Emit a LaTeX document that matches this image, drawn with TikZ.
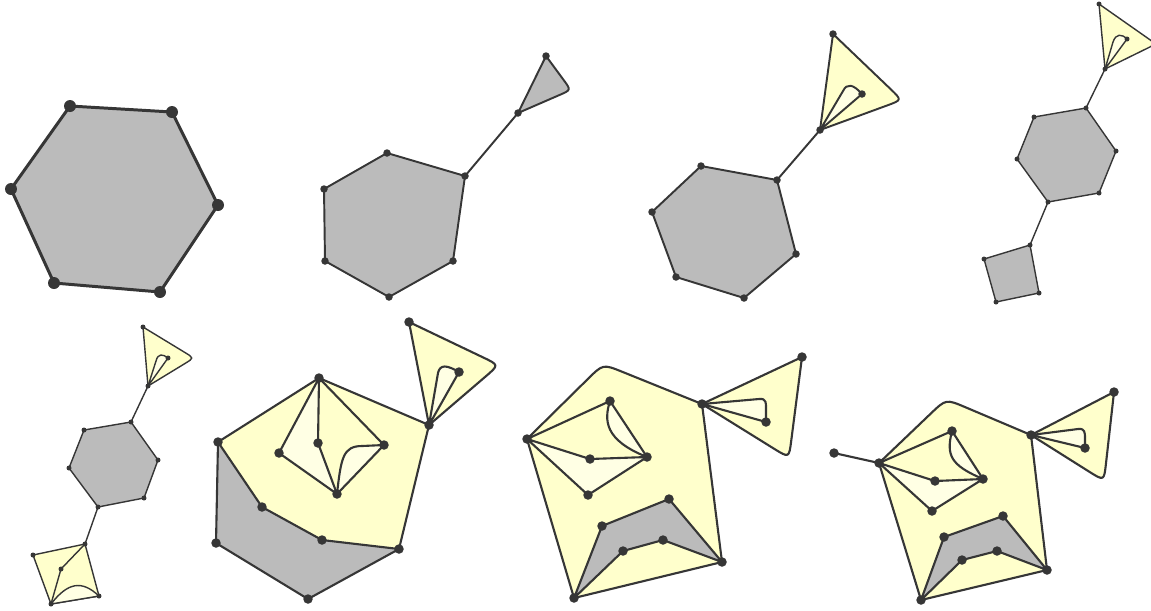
\documentclass[tikz,border=0pt]{standalone}
\usetikzlibrary{calc}
\definecolor{ink}{HTML}{363636}
\definecolor{yel}{HTML}{FFFFCC}
\definecolor{pale}{HTML}{FFFFE4}
\definecolor{gry}{HTML}{BBBBBB}

\begin{document}
\begin{tikzpicture}[x=0.02cm,y=-0.02cm,line join=round,draw=ink,
  vtx/.style={circle,fill=ink,inner sep=0pt,minimum size=#1},
  vtx/.default=0.19cm]
\useasboundingbox (0,0) rectangle (1151,610);

% big hexagon
\begin{scope}[line width=1.7pt]
\coordinate (a1) at (70,106);
\coordinate (a2) at (172,112);
\coordinate (a3) at (218,205);
\coordinate (a4) at (160,292);
\coordinate (a5) at (54,283);
\coordinate (a6) at (11,189);
\filldraw[fill=gry] (a1) -- (a2) -- (a3) -- (a4) -- (a5) -- (a6) -- cycle;
\foreach \i in {1,...,6} \node[vtx=0.24cm] (pa\i) at (a\i) {};
\end{scope}

% hexagon with grey loop
\begin{scope}[line width=1.1pt]
\coordinate (b1) at (387,153);
\coordinate (b2) at (465,176);
\coordinate (b3) at (453,261);
\coordinate (b4) at (389,297);
\coordinate (b5) at (325,261);
\coordinate (b6) at (324,189);
\coordinate (b7) at (518,113);
\coordinate (b8) at (546,56);
\coordinate (bt) at (571,90);
\filldraw[fill=gry] (b1) -- (b2) -- (b3) -- (b4) -- (b5) -- (b6) -- cycle;
\draw (b2) -- (b7);
\filldraw[fill=gry] (b7) -- (b8) -- ($(bt)!7pt!(b8)$) .. controls (bt) .. ($(bt)!7pt!(b7)$) -- cycle;
\foreach \i in {1,...,8} \node[vtx=0.15cm] (pb\i) at (b\i) {};
\end{scope}

% hexagon with yellow loop
\begin{scope}[line width=1.1pt]
\coordinate (c1) at (701,166);
\coordinate (c2) at (777,180);
\coordinate (c3) at (796,254);
\coordinate (c4) at (744,298);
\coordinate (c5) at (676,277);
\coordinate (c6) at (652,212);
\coordinate (c7) at (820,130);
\coordinate (c8) at (833,34);
\coordinate (c9) at (862,94);
\coordinate (ct) at (902,100);
\filldraw[fill=gry] (c1) -- (c2) -- (c3) -- (c4) -- (c5) -- (c6) -- cycle;
\draw (c2) -- (c7);
\filldraw[fill=yel] (c7) -- (c8) -- ($(ct)!9pt!(c8)$) .. controls (ct) .. ($(ct)!9pt!(c7)$) -- cycle;
\filldraw[fill=pale] (c7) -- (843,91) .. controls (847,83) and (853,84) .. (c9) -- cycle;
\foreach \i in {1,...,9} \node[vtx=0.15cm] (pc\i) at (c\i) {};
\end{scope}

% loop, hexagon, square
\begin{scope}[line width=0.8pt]
\coordinate (d1) at (1086,108);
\coordinate (d2) at (1116,151);
\coordinate (d3) at (1099,193);
\coordinate (d4) at (1048,202);
\coordinate (d5) at (1017,159);
\coordinate (d6) at (1034,117);
\coordinate (d7) at (1105,69);
\coordinate (d8) at (1099,4);
\coordinate (d9) at (1127,39);
\coordinate (dt) at (1156,44);
\coordinate (s1) at (1030,245);
\coordinate (s2) at (1039,293);
\coordinate (s3) at (996,302);
\coordinate (s4) at (984,259);
\filldraw[fill=gry] (d1) -- (d2) -- (d3) -- (d4) -- (d5) -- (d6) -- cycle;
\filldraw[fill=gry] (s1) -- (s2) -- (s3) -- (s4) -- cycle;
\draw (d7) -- (d1);
\draw (d4) -- (s1);
\filldraw[fill=yel] (d7) -- (d8) -- ($(dt)!6pt!(d8)$) .. controls (dt) .. ($(dt)!6pt!(d7)$) -- cycle;
\filldraw[fill=pale] (d7) -- (1113,42) .. controls (1116,33) and (1122,34) .. (d9) -- cycle;
\foreach \i in {1,...,9} \node[vtx=0.1cm] (pd\i) at (d\i) {};
\foreach \i in {1,...,4} \node[vtx=0.1cm] (ps\i) at (s\i) {};
\end{scope}

% loop, hexagon, yellow square
\begin{scope}[line width=0.8pt]
\coordinate (f1) at (131,422);
\coordinate (f2) at (158,460);
\coordinate (f3) at (144,498);
\coordinate (f4) at (98,507);
\coordinate (f5) at (69,468);
\coordinate (f6) at (84,430);
\coordinate (f7) at (148,386);
\coordinate (f8) at (143,327);
\coordinate (f9) at (168,358);
\coordinate (ft) at (194,358);
\coordinate (g1) at (85,544);
\coordinate (g2) at (99,596);
\coordinate (g3) at (51,604);
\coordinate (g4) at (33,555);
\coordinate (g5) at (61,569);
\filldraw[fill=gry] (f1) -- (f2) -- (f3) -- (f4) -- (f5) -- (f6) -- cycle;
\draw (f7) -- (f1);
\draw (f4) -- (g1);
\filldraw[fill=yel] (f7) -- (f8) -- ($(ft)!6pt!(f8)$) .. controls (ft) .. ($(ft)!6pt!(f7)$) -- cycle;
\filldraw[fill=pale] (f7) -- (156,361) .. controls (158,353) and (163,354) .. (f9) -- cycle;
\filldraw[fill=yel] (g1) -- (g2) -- (g3) -- (g4) -- cycle;
\filldraw[fill=pale] (g3) .. controls (68,582) and (82,580) .. (g2) -- cycle;
\draw (g1) -- (g5) -- (g3);
\foreach \i in {1,...,9} \node[vtx=0.1cm] (pf\i) at (f\i) {};
\foreach \i in {1,...,5} \node[vtx=0.1cm] (pg\i) at (g\i) {};
\end{scope}

% hexagon, half yellow
\begin{scope}[line width=1.2pt]
\coordinate (h1) at (319,378);
\coordinate (h2) at (429,425);
\coordinate (h3) at (399,549);
\coordinate (h4) at (322,540);
\coordinate (h5) at (262,507);
\coordinate (h6) at (218,442);
\coordinate (h7) at (216,543);
\coordinate (h8) at (308,599);
\coordinate (h9) at (279,453);
\coordinate (h10) at (318,443);
\coordinate (h11) at (384,445);
\coordinate (h12) at (337,494);
\coordinate (h13) at (409,322);
\coordinate (h14) at (459,372);
\coordinate (ht) at (499,365);
\fill[yel] (h6) -- (h1) -- (h2) -- (h3) -- (h4) -- (h5) -- cycle;
\fill[gry] (h6) -- (h5) -- (h4) -- (h3) -- (h8) -- (h7) -- cycle;
\fill[pale] (h1) -- (h9) -- (h12) -- (h10) -- cycle;
\fill[pale] (h12) .. controls (341,458) and (343,446) .. (362,446) -- (h11) -- cycle;
\draw (h6) -- (h1) -- (h2) -- (h3) -- (h8) -- (h7) -- cycle;
\draw (h6) -- (h5) -- (h4) -- (h3);
\draw (h1) -- (h9) -- (h12) -- (h10) -- (h1) -- (h11) -- (h12);
\draw (h12) .. controls (341,458) and (343,446) .. (362,446) -- (h11);
\filldraw[fill=yel] (h2) -- (h13) -- ($(ht)!10pt!(h13)$) .. controls (ht) .. ($(ht)!10pt!(h2)$) -- cycle;
\filldraw[fill=pale] (h2) -- (438,373) .. controls (440,364) and (447,365) .. (h14) -- cycle;
\foreach \i in {1,...,14} \node[vtx] (ph\i) at (h\i) {};
\end{scope}

% yellow face with grey strip
\begin{scope}[line width=1.2pt]
\coordinate (k1) at (527,439);
\coordinate (kc) at (603,364);
\coordinate (k2) at (702,404);
\coordinate (k3) at (722,562);
\coordinate (k4) at (574,598);
\coordinate (k5) at (610,401);
\coordinate (k6) at (590,459);
\coordinate (k7) at (647,457);
\coordinate (k8) at (588,495);
\coordinate (k9) at (802,357);
\coordinate (k10) at (766,422);
\coordinate (kt) at (789,458);
\coordinate (m1) at (602,526);
\coordinate (m2) at (669,499);
\coordinate (m3) at (663,540);
\coordinate (m4) at (623,551);
\filldraw[fill=yel] (k1) -- ($(kc)!12pt!(k1)$) .. controls (kc) .. ($(kc)!12pt!(k2)$) -- (k2) -- (k3) -- (k4) -- cycle;
\filldraw[fill=gry] (k4) -- (m1) -- (m2) -- (k3) -- (m3) -- (m4) -- cycle;
\filldraw[fill=pale] (k1) -- (k6) -- (k7) -- (k8) -- cycle;
\filldraw[fill=pale] (k5) .. controls (604,420) and (604,440) .. (k7) -- cycle;
\draw (k1) -- (k5);
\filldraw[fill=yel] (k2) -- (k9) -- ($(kt)!10pt!(k9)$) .. controls (kt) .. ($(kt)!10pt!(k2)$) -- cycle;
\filldraw[fill=pale] (k2) -- (759,399) .. controls (767,398) and (766,404) .. (766,410) -- (k10) -- cycle;
\foreach \i in {1,...,10} \node[vtx] (pk\i) at (k\i) {};
\foreach \i in {1,...,4} \node[vtx] (pm\i) at (m\i) {};
\end{scope}

% same, with pendant edge
\begin{scope}[line width=1.2pt]
\coordinate (n0) at (834,453);
\coordinate (n1) at (879,463);
\coordinate (nc) at (946,399);
\coordinate (n2) at (1031,435);
\coordinate (n3) at (1047,570);
\coordinate (n4) at (921,600);
\coordinate (n5) at (952,431);
\coordinate (n6) at (935,481);
\coordinate (n7) at (983,479);
\coordinate (n8) at (932,511);
\coordinate (n9) at (1114,392);
\coordinate (n10) at (1085,448);
\coordinate (nt) at (1104,481);
\coordinate (q1) at (944,537);
\coordinate (q2) at (1003,516);
\coordinate (q3) at (997,551);
\coordinate (q4) at (962,560);
\draw (n0) -- (n1);
\filldraw[fill=yel] (n1) -- ($(nc)!12pt!(n1)$) .. controls (nc) .. ($(nc)!12pt!(n2)$) -- (n2) -- (n3) -- (n4) -- cycle;
\filldraw[fill=gry] (n4) -- (q1) -- (q2) -- (n3) -- (q3) -- (q4) -- cycle;
\filldraw[fill=pale] (n1) -- (n6) -- (n7) -- (n8) -- cycle;
\filldraw[fill=pale] (n5) .. controls (946,455) and (950,465) .. (n7) -- cycle;
\draw (n1) -- (n5);
\filldraw[fill=yel] (n2) -- (n9) -- ($(nt)!10pt!(n9)$) .. controls (nt) .. ($(nt)!10pt!(n2)$) -- cycle;
\filldraw[fill=pale] (n2) -- (1078,429) .. controls (1085,428) and (1085,433) .. (1085,438) -- (n10) -- cycle;
\foreach \i in {0,...,10} \node[vtx] (pn\i) at (n\i) {};
\foreach \i in {1,...,4} \node[vtx] (pq\i) at (q\i) {};
\end{scope}
\end{tikzpicture}
\end{document}
